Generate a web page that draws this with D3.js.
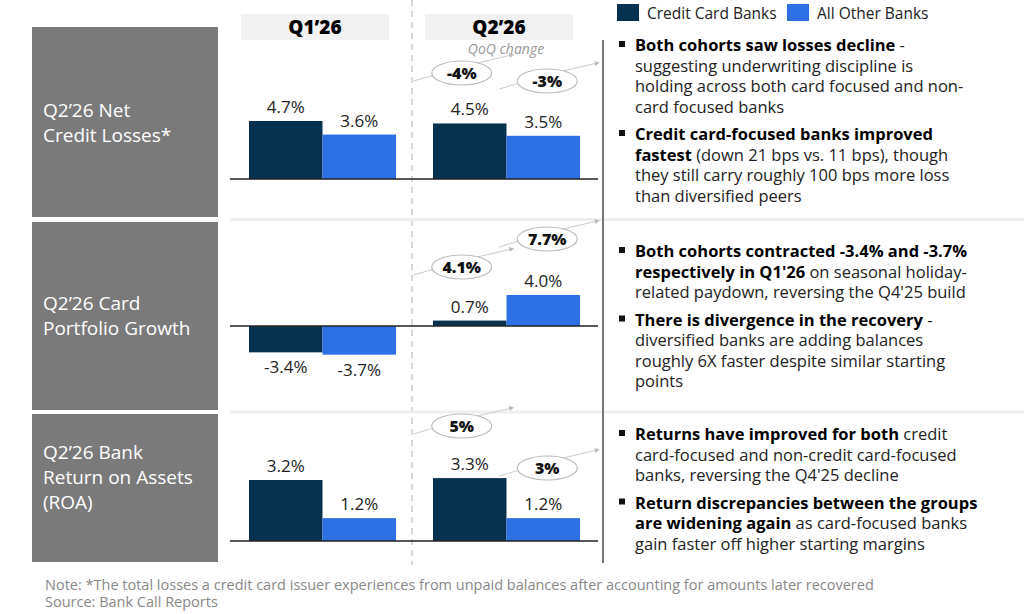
<!DOCTYPE html>
<html>
<head>
<meta charset="utf-8">
<style>
  body { margin: 0; background: #fff; }
  svg text { font-family: "Open Sans", Lato, sans-serif; }
</style>
<script src="https://d3js.org/d3.v7.min.js"></script>
</head>
<body>
<svg id="svg" width="1024" height="614"></svg>
<script>
var periods = ["Q1\u201926", "Q2\u201926"];
var series = ["Credit Card Banks", "All Other Banks"];
var colors = ["#06324f", "#2c70e3"];
var rowTitles = [["Q2\u201926 Net", "Credit Losses*"], ["Q2\u201926 Card", "Portfolio Growth"], ["Q2\u201926 Bank", "Return on Assets", "(ROA)"]];
var ncl = [[4.7, 3.6], [4.5, 3.5]];
var growth = [[-3.4, -3.7], [0.7, 4.0]];
var roa = [[3.2, 1.2], [3.3, 1.2]];
var qoq = [["-4%", "-3%"], ["4.1%", "7.7%"], ["5%", "3%"]];
var notes = [
  [[["Both cohorts saw losses decline", 1], [" -", 0]], [["suggesting underwriting discipline is", 0]], [["holding across both card focused and non-", 0]], [["card focused banks", 0]],
   null, [["Credit card-focused banks improved", 1]], [["fastest", 1], [" (down 21 bps vs. 11 bps), though", 0]], [["they still carry roughly 100 bps more loss", 0]], [["than diversified peers", 0]]],
  [[["Both cohorts contracted -3.4% and -3.7%", 1]], [["respectively in Q1'26", 1], [" on seasonal holiday-", 0]], [["related paydown, reversing the Q4'25 build", 0]],
   null, [["There is divergence in the recovery", 1], [" -", 0]], [["diversified banks are adding balances", 0]], [["roughly 6X faster despite similar starting", 0]], [["points", 0]]],
  [[["Returns have improved for both", 1], [" credit", 0]], [["card-focused and non-credit card-focused", 0]], [["banks, reversing the Q4'25 decline", 0]],
   null, [["Return discrepancies between the groups", 1]], [["are widening again", 1], [" as card-focused banks", 0]], [["gain faster off higher starting margins", 0]]]
];
var footnotes = ["Note: *The total losses a credit card issuer experiences from unpaid balances after accounting for amounts later recovered", "Source: Bank Call Reports"];

var svg = d3.select("svg");
var rows = [
  { data: ncl, top: 27, bottom: 217, base: 179, dom: [0, 4.7], px: 58, titleY: 110 },
  { data: growth, top: 222, bottom: 410, base: 326, dom: [0, 4.0], px: 31, titleY: 303 },
  { data: roa, top: 414, bottom: 562, base: 541, dom: [0, 3.2], px: 61, titleY: 452 }
];

var groupX = { "Q1\u201926": 249, "Q2\u201926": 433 };
var x1 = d3.scaleBand().domain(series).range([0, 147]);

// header boxes
periods.forEach(function (p) {
  svg.append("rect").attr("x", groupX[p] - 8).attr("y", 14).attr("width", 148).attr("height", 26).attr("fill", "#f2f2f2");
  svg.append("text").attr("x", groupX[p] + 66).attr("y", 34).attr("text-anchor", "middle")
    .attr("font-size", 19).attr("font-weight", 800).text(p);
});
svg.append("text").attr("x", 506).attr("y", 54).attr("text-anchor", "middle").attr("font-size", 14)
  .attr("font-style", "italic").attr("fill", "#999").text("QoQ change");

// legend
series.forEach(function (s, i) {
  var lx = [617, 787][i];
  svg.append("rect").attr("x", lx).attr("y", 4).attr("width", 22).attr("height", 17).attr("fill", colors[i]);
  svg.append("text").attr("x", lx + 30).attr("y", 19).attr("font-size", 15.5).attr("fill", "#222").text(s);
});

// separators
svg.append("line").attr("x1", 412).attr("x2", 412).attr("y1", 0).attr("y2", 565)
  .attr("stroke", "#ccc").attr("stroke-dasharray", "6,5").attr("stroke-width", 1.5);
[219.5, 412].forEach(function (y) {
  svg.append("line").attr("x1", 230).attr("x2", 1024).attr("y1", y).attr("y2", y).attr("stroke", "#eee").attr("stroke-width", 3);
});
svg.append("line").attr("x1", 603).attr("x2", 603).attr("y1", 40).attr("y2", 563).attr("stroke", "#777").attr("stroke-width", 2);

var defs = svg.append("defs");
defs.append("marker").attr("id", "arr").attr("viewBox", "0 0 10 10").attr("refX", 5).attr("refY", 5)
  .attr("markerWidth", 5).attr("markerHeight", 5).attr("orient", "auto")
  .append("path").attr("d", "M0,0L10,5L0,10z").attr("fill", "#bbb");

rows.forEach(function (r, ri) {
  svg.append("rect").attr("x", 32).attr("y", r.top).attr("width", 186).attr("height", r.bottom - r.top).attr("fill", "#7a7a7a");
  rowTitles[ri].forEach(function (line, li) {
    svg.append("text").attr("x", 43).attr("y", r.titleY + 7 + li * 25).attr("font-size", 19).attr("font-weight", 500)
      .attr("fill", "#fff").text(line);
  });

  var y = d3.scaleLinear().domain(r.dom).range([r.base, r.base - r.px]);
  periods.forEach(function (p, pi) {
    var g = svg.append("g").attr("transform", "translate(" + groupX[p] + ",0)");
    series.forEach(function (s, si) {
      var v = r.data[pi][si];
      g.append("rect").attr("x", x1(s)).attr("width", x1.bandwidth())
        .attr("y", Math.min(y(v), y(0))).attr("height", Math.abs(y(v) - y(0))).attr("fill", colors[si]);
      g.append("text").attr("x", x1(s) + x1.bandwidth() / 2)
        .attr("y", v >= 0 ? y(v) - 8 : y(v) + 21).attr("text-anchor", "middle")
        .attr("font-size", 17).attr("fill", "#222").text(v.toFixed(1) + "%");
    });
    // QoQ bubbles on Q2
    if (pi === 1) {
      series.forEach(function (s, si) {
        var cx = x1(s) + x1.bandwidth() / 2 + (si === 0 ? -8 : 4);
        var cy = [[73, 81], [267, 239], [426, 468]][ri][si];
        g.append("path").attr("d", "M" + (cx - 48) + "," + (cy + 8) + "Q" + cx + "," + (cy - 8) + " " + (cx + 50) + "," + (cy - 18))
          .attr("fill", "none").attr("stroke", "#ccc").attr("stroke-width", 1).attr("marker-end", "url(#arr)");
        g.append("ellipse").attr("cx", cx).attr("cy", cy).attr("rx", 30).attr("ry", 12)
          .attr("fill", "#fff").attr("stroke", "#bbb").attr("stroke-width", 1.2);
        g.append("text").attr("x", cx).attr("y", cy + 6).attr("text-anchor", "middle")
          .attr("font-size", 16).attr("font-weight", 800).attr("fill", "#111").text(qoq[ri][si]);
      });
    }
  });
  svg.append("line").attr("x1", 230).attr("x2", 598).attr("y1", r.base).attr("y2", r.base).attr("stroke", "#222").attr("stroke-width", 1.5);

  // notes
  var lineY = [51, 257, 440][ri];
  notes[ri].forEach(function (ln, k) {
    if (ln === null) { lineY += 7; return; }
    if (k === 0 || notes[ri][k - 1] === null)
      svg.append("rect").attr("x", 619).attr("y", lineY - 10).attr("width", 6).attr("height", 6).attr("fill", "#111");
    var tx = svg.append("text").attr("x", 635).attr("y", lineY).attr("font-size", 16.5).attr("fill", "#222");
    ln.forEach(function (seg) {
      tx.append("tspan").attr("font-weight", seg[1] ? 700 : 400).attr("fill", seg[1] ? "#000" : "#222").text(seg[0]);
    });
    lineY += 20.5;
  });
});

footnotes.forEach(function (f, i) {
  svg.append("text").attr("x", 45).attr("y", 590 + i * 17).attr("font-size", 14.5).attr("fill", "#888").text(f);
});
</script>
</body>
</html>
